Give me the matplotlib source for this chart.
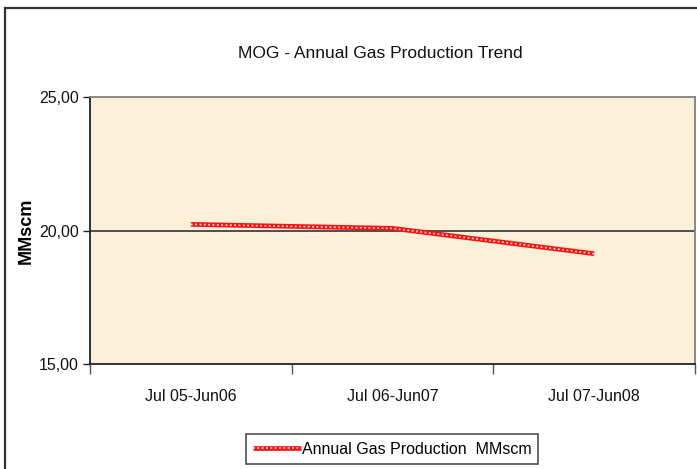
import matplotlib
matplotlib.use("Agg")
import matplotlib.pyplot as plt
from matplotlib.lines import Line2D
from matplotlib.ticker import FuncFormatter

# annual gas production, MMscm
periods = ['Jul 05-Jun06', 'Jul 06-Jun07', 'Jul 07-Jun08']
production = [20.23, 20.08, 19.13]
y_ticks = [15, 20, 25]

sans = ['Liberation Sans', 'DejaVu Sans']

W, H = 697, 469
fig = plt.figure(figsize=(W / 100, H / 100), dpi=100)
fig.patch.set_facecolor('white')

# chart frame (left and top edges only show)
fig.add_artist(Line2D([5 / W, 5 / W], [0, 1 - 8 / H], transform=fig.transFigure,
                      color='#333333', lw=1.6))
fig.add_artist(Line2D([5 / W, 1], [1 - 8 / H, 1 - 8 / H], transform=fig.transFigure,
                      color='#333333', lw=1.6))

ax = fig.add_axes([90 / W, 105 / H, 605 / W, 267 / H])
ax.set_facecolor('#FCF0D9')

x = list(range(len(periods)))
red, = ax.plot(x, production, color='#FF1010', lw=3.4, solid_capstyle='butt', zorder=3)
white, = ax.plot(x, production, color='#FFE0E0', lw=1.2, dashes=(1.1, 1.5),
                 solid_capstyle='butt', zorder=4)

ax.axhline(20, color='#404040', lw=1.3, zorder=2)

ax.set_xlim(-0.5, len(periods) - 0.5)
ax.set_ylim(15, 25)
ax.set_yticks(y_ticks)
ax.yaxis.set_major_formatter(FuncFormatter(lambda v, p: f'{v:.2f}'.replace('.', ',')))
ax.set_xticks(x)
ax.set_xticklabels(periods)
ax.set_xticks([i - 0.5 for i in range(len(periods) + 1)], minor=True)
ax.tick_params(axis='x', which='major', length=0, pad=18)
ax.tick_params(axis='x', which='minor', length=7, width=1, color='#555555')
ax.tick_params(axis='y', length=5, width=1, color='#222222', pad=3)
for lab in ax.get_xticklabels() + ax.get_yticklabels():
    lab.set_family(sans)
    lab.set_fontsize(11.5)
    lab.set_color('#111111')

ax.spines['left'].set_color('#222222')
ax.spines['bottom'].set_color('#222222')
ax.spines['left'].set_linewidth(1.3)
ax.spines['bottom'].set_linewidth(1.3)
ax.spines['top'].set_color('#808080')
ax.spines['right'].set_color('#808080')
ax.spines['top'].set_linewidth(1.3)
ax.spines['right'].set_linewidth(1.3)

ax.set_ylabel('MMscm', fontsize=13, fontweight='bold', family=sans)
ax.yaxis.set_label_coords((35 - 90) / 605, 0.5)

fig.text(380 / W, 1 - 53 / H, 'MOG - Annual Gas Production Trend', ha='center', va='center',
         fontsize=12.5, family=sans, color='#111111')

leg = fig.legend([(red, white)], ['Annual Gas Production  MMscm'],
                 loc='center', bbox_to_anchor=(392 / W, 1 - 449 / H),
                 prop={'family': sans, 'size': 11.5}, frameon=True, fancybox=False,
                 handlelength=3.0, handletextpad=0.05, borderpad=0.45, borderaxespad=0)
leg.get_frame().set_edgecolor('#222222')
leg.get_frame().set_linewidth(1.2)

fig.savefig('out.png', dpi=100)
